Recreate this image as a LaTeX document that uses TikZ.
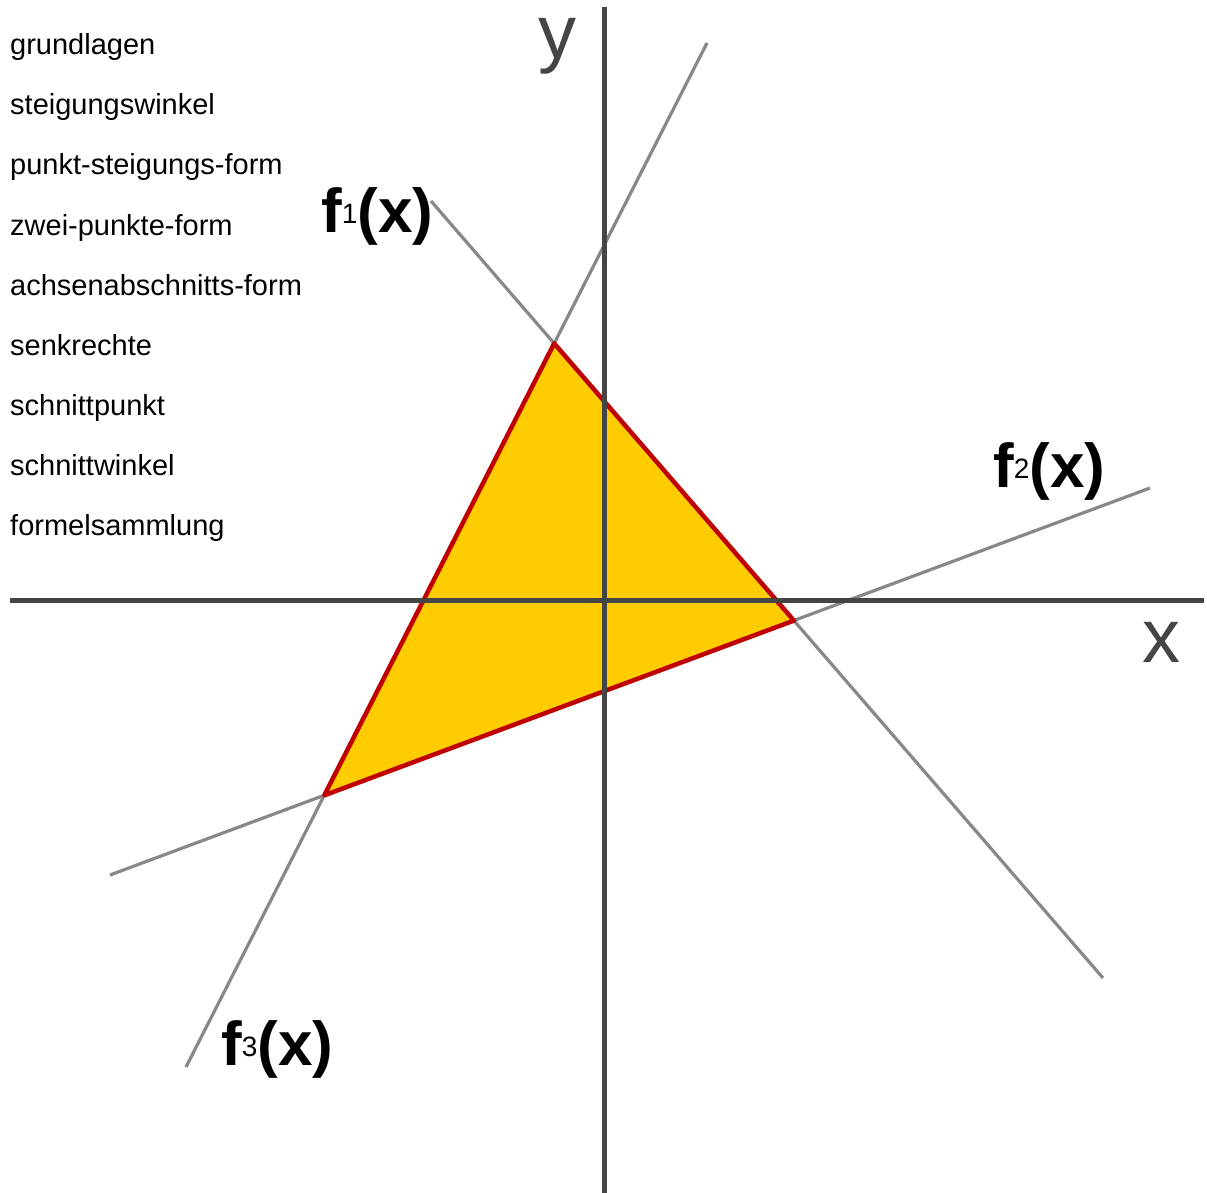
\documentclass[tikz,border=0pt]{standalone}
\usepackage{fontspec}
\setmainfont{Liberation Sans}
\begin{document}
\begin{tikzpicture}[x=1pt,y=-1pt,
  menu/.style={anchor=base west,inner sep=0pt,font=\fontsize{29}{29}\selectfont,text=black},
  axislabel/.style={anchor=base west,inner sep=0pt,font=\fontsize{76}{76}\selectfont,text=axiscol},
  flabel/.style={anchor=base west,inner sep=0pt,font=\fontsize{62}{62}\selectfont\bfseries,text=black},
  fline/.style={draw=linegray,line width=3.2pt},
  axis/.style={draw=axiscol,line width=5pt}]
\definecolor{linegray}{HTML}{888888}
\definecolor{axiscol}{HTML}{454545}
\definecolor{tri}{HTML}{FFCC00}
\definecolor{triedge}{HTML}{C00000}
\useasboundingbox (0,0) rectangle (1207,1193);
\newcommand{\subdig}[1]{{\fontsize{28}{28}\mdseries\raisebox{9pt}{#1}}}
% line end points
\coordinate (a1) at (431,201);
\coordinate (a2) at (1103,978);
\coordinate (b1) at (110,875);
\coordinate (b2) at (1150,488);
\coordinate (c1) at (186,1067);
\coordinate (c2) at (707,43);
% lines
\draw[fline] (a1) -- (a2);
\draw[fline] (b1) -- (b2);
\draw[fline] (c1) -- (c2);
% triangle
\coordinate (p) at (intersection of a1--a2 and c1--c2);
\coordinate (q) at (intersection of a1--a2 and b1--b2);
\coordinate (r) at (intersection of b1--b2 and c1--c2);
\filldraw[fill=tri,draw=triedge,line width=4.5pt,line join=round] (p) -- (q) -- (r) -- cycle;
% axes
\coordinate (xl) at (10,600);
\coordinate (xr) at (1204,600);
\coordinate (yt) at (604,7);
\coordinate (yb) at (604,1193);
\draw[axis] (xl) -- (xr);
\draw[axis] (yt) -- (yb);
\node[axislabel] (ylab) at (538,59) {y};
\node[axislabel] (xlab) at (1142,662) {x};
% function labels
\node[flabel] (f1) at (321,233) {f\subdig{1}(x)};
\node[flabel] (f2) at (993,487) {f\subdig{2}(x)};
\node[flabel] (f3) at (221,1065) {f\subdig{3}(x)};
% menu
\node[menu] (m1) at (10,55) {grundlagen};
\node[menu] (m2) at (10,115) {steigungswinkel};
\node[menu] (m3) at (10,175) {punkt-steigungs-form};
\node[menu] (m4) at (10,235) {zwei-punkte-form};
\node[menu] (m5) at (10,295) {achsenabschnitts-form};
\node[menu] (m6) at (10,355) {senkrechte};
\node[menu] (m7) at (10,415) {schnittpunkt};
\node[menu] (m8) at (10,475) {schnittwinkel};
\node[menu] (m9) at (10,535) {formelsammlung};
\end{tikzpicture}
\end{document}
